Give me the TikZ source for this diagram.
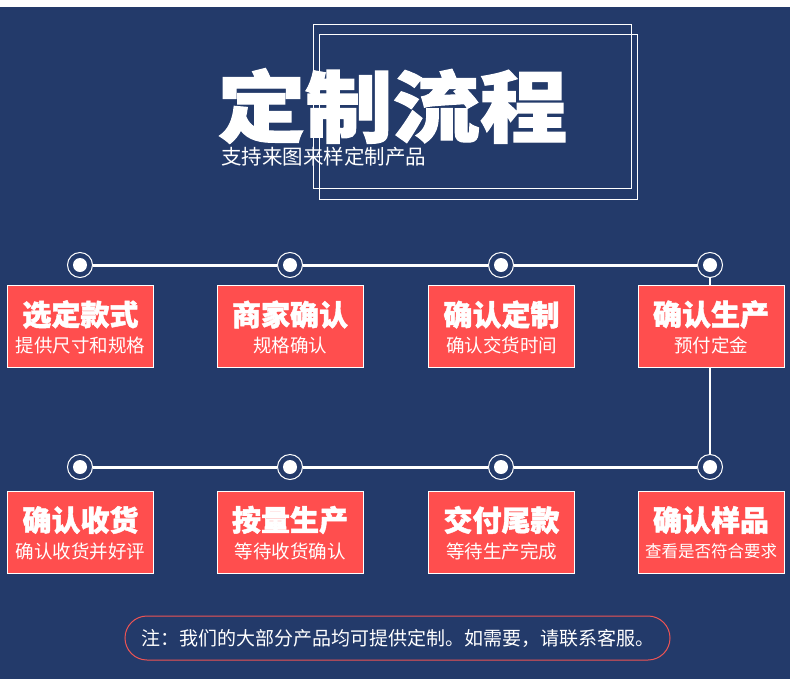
\documentclass[tikz,border=0pt]{standalone}
\usepackage{fontspec}
\newfontfamily\cjk{Noto Sans CJK SC}
\newfontfamily\cjkheavy[FakeBold=1.5]{Noto Sans CJK SC}
\definecolor{navybg}{RGB}{35,58,106}
\definecolor{boxred}{RGB}{255,78,78}
\definecolor{linepink}{RGB}{238,84,84}
\begin{document}
\begin{tikzpicture}[x=1pt, y=-1pt,
	stepbox/.style={draw=white, line width=1pt, fill=boxred, minimum width=146pt, minimum height=82pt, inner sep=0pt},
	steptitle/.style={text=white, font=\cjkheavy\bfseries\fontsize{29}{29}\selectfont, inner sep=0pt},
	stepnote/.style={text=white, font=\cjk\fontsize{18.5}{18.5}\selectfont, inner sep=0pt},
	dotring/.style={circle, draw=white, line width=1pt, fill=navybg, minimum size=25pt, inner sep=0pt,
		path picture={\fill[white] (path picture bounding box.center) circle [radius=7pt];}},
	trackline/.style={white, line width=3pt}]
		\useasboundingbox (0,0) rectangle (790,694);
		\fill[white] (0,0) rectangle (790,694);
		\fill[navybg] (0,7) rectangle (790,679);
		
		% title block
		\draw[white, line width=1pt] (313,24) rectangle (631,188);
		\draw[white, line width=1pt] (319,34) rectangle (637,199);
		\node (title) [text=white, font=\cjkheavy\bfseries\fontsize{78}{78}\selectfont, inner sep=0pt] at (392.5,106) {\scalebox{1.12}[1]{定制流程}};
		\node (subtitle) [anchor=west, text=white, font=\cjk\fontsize{20.5}{20.5}\selectfont, inner sep=0pt] at (221,157) {支持来图来样定制产品};
		
		% dots of the track
		\node (d1) [dotring] at (80,265) {};
		\node (d2) [dotring] at (290,265) {};
		\node (d3) [dotring] at (501,265) {};
		\node (d4) [dotring] at (710,265) {};
		\node (d5) [dotring] at (80,467) {};
		\node (d6) [dotring] at (290,467) {};
		\node (d7) [dotring] at (501,467) {};
		\node (d8) [dotring] at (710,467) {};
		
		\draw[trackline] (d1) -- (d2);
		\draw[trackline] (d2) -- (d3);
		\draw[trackline] (d3) -- (d4);
		\draw[trackline] (d5) -- (d6);
		\draw[trackline] (d6) -- (d7);
		\draw[trackline] (d7) -- (d8);
		\draw[linepink, line width=2.6pt] (d4) -- (d8);
		\draw[white, line width=1.2pt] (d4) -- (d8);
		
		% upper steps
		\node (b1) [stepbox] at (80.5,326) {};
		\node (b2) [stepbox] at (290,326) {};
		\node (b3) [stepbox] at (501.5,326) {};
		\node (b4) [stepbox] at (711,326) {};
		\node (t1) [steptitle] at (80.5,314.5) {选定款式};
		\node (n1) [stepnote] at (80.5,345) {提供尺寸和规格};
		\node (t2) [steptitle] at (290,314.5) {商家确认};
		\node (n2) [stepnote] at (290,345) {规格确认};
		\node (t3) [steptitle] at (501.5,314.5) {确认定制};
		\node (n3) [stepnote] at (501.5,345) {确认交货时间};
		\node (t4) [steptitle] at (711,314.5) {确认生产};
		\node (n4) [stepnote] at (711,345) {预付定金};
		
		% lower steps
		\node (b5) [stepbox] at (80.5,532.5) {};
		\node (b6) [stepbox] at (290,532.5) {};
		\node (b7) [stepbox] at (501.5,532.5) {};
		\node (b8) [stepbox] at (711,532.5) {};
		\node (t5) [steptitle] at (80.5,520) {确认收货};
		\node (n5) [stepnote] at (80.5,551) {确认收货并好评};
		\node (t6) [steptitle] at (290,520) {按量生产};
		\node (n6) [stepnote] at (290,551) {等待收货确认};
		\node (t7) [steptitle] at (501.5,520) {交付尾款};
		\node (n7) [stepnote] at (501.5,551) {等待生产完成};
		\node (t8) [steptitle] at (711,520) {确认样品};
		\node (n8) [stepnote, font=\cjk\fontsize{16.5}{16.5}\selectfont] at (711,551) {查看是否符合要求};
		
		% note at the foot
		\node (note) [draw=linepink, line width=1pt, rounded corners=22pt, minimum width=545pt, minimum height=44pt, inner sep=0pt, text=white, font=\cjk\fontsize{19}{19}\selectfont] at (397.5,638) {注：我们的大部分产品均可提供定制。如需要，请联系客服。};
		\end{tikzpicture}
\end{document}
